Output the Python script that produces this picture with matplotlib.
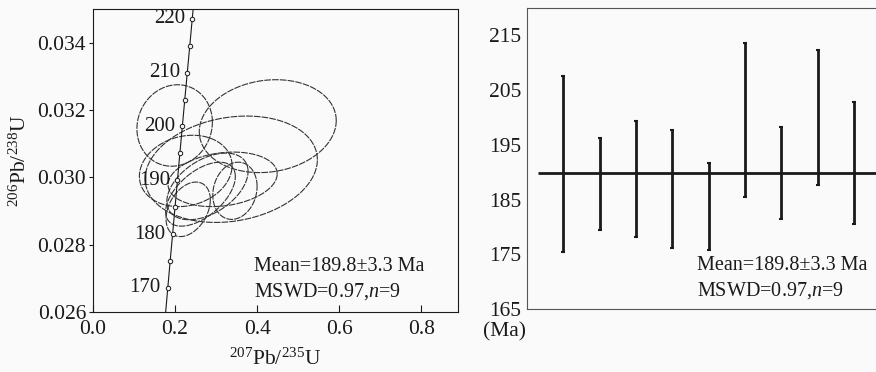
import numpy as np
import matplotlib.pyplot as plt
from matplotlib.ticker import MultipleLocator

plt.rcParams['font.family'] = ['Liberation Serif', 'DejaVu Serif']
plt.rcParams['mathtext.fontset'] = 'custom'
plt.rcParams['mathtext.rm'] = 'Liberation Serif'
plt.rcParams['mathtext.it'] = 'Liberation Serif:italic'

# concordia ticks (Ma) and their ratios
conc_age = [165, 170, 175, 180, 185, 190, 195, 200, 205, 210, 215, 220, 225]
conc_x = [0.1765, 0.1823, 0.1881, 0.1940, 0.1999, 0.2058, 0.2117, 0.2177,
          0.2237, 0.2298, 0.2359, 0.2419, 0.2481]
conc_y = [0.02592, 0.02672, 0.02752, 0.02831, 0.02911, 0.02991, 0.03071,
          0.03151, 0.03231, 0.03311, 0.03391, 0.03471, 0.03551]
label_ages = [170, 180, 190, 200, 210, 220]

# error ellipses: centre, half widths, correlation
ell_cx = [0.199, 0.426, 0.337, 0.226, 0.316, 0.346, 0.279, 0.262, 0.232]
ell_cy = [0.03154, 0.03152, 0.03024, 0.03019, 0.02994, 0.02960, 0.02973, 0.02950, 0.02905]
ell_sx = [0.092, 0.167, 0.210, 0.113, 0.133, 0.054, 0.099, 0.085, 0.054]
ell_sy = [0.00121, 0.00138, 0.00158, 0.00106, 0.00081, 0.00085, 0.00099, 0.00095, 0.00081]
ell_rho = [0.08, 0.12, 0.18, 0.15, 0.2, 0.15, 0.45, 0.55, 0.35]

# weighted mean plot
spot_top = [207.6, 196.3, 199.3, 197.7, 191.7, 213.6, 198.3, 212.3, 202.9]
spot_bot = [175.5, 179.5, 178.1, 176.1, 175.8, 185.5, 181.5, 187.7, 180.5]
mean_age = 189.8

bg = '#fafafa'
ink = '#1a1a1a'

fig = plt.figure(figsize=(8.76, 3.72), dpi=100, facecolor=bg)

# --- concordia
ax1 = fig.add_axes([0.1062, 0.1613, 0.4167, 0.8145], facecolor=bg)
t = np.linspace(0, 2 * np.pi, 200)
for cx, cy, sx, sy, r in zip(ell_cx, ell_cy, ell_sx, ell_sy, ell_rho):
    ex = cx + sx * np.cos(t)
    ey = cy + sy * (r * np.cos(t) + np.sqrt(1 - r ** 2) * np.sin(t))
    ax1.plot(ex, ey, color='#333333', lw=0.8, ls=(0, (6, 1)))

ax1.plot(conc_x, conc_y, color=ink, lw=0.8, marker='o', ms=3.2,
         mfc=bg, mec=ink, mew=0.7)
for a in label_ages:
    i = conc_age.index(a)
    ax1.annotate(str(a), (conc_x[i], conc_y[i]), xytext=(-5, 0),
                 textcoords='offset points', ha='right', va='center',
                 fontsize=15, color=ink)

ax1.set_xlim(0, 0.89)
ax1.set_ylim(0.026, 0.035)
ax1.xaxis.set_major_locator(MultipleLocator(0.2))
ax1.yaxis.set_major_locator(MultipleLocator(0.002))
ax1.xaxis.set_major_formatter(plt.FormatStrFormatter('%.1f'))
ax1.yaxis.set_major_formatter(plt.FormatStrFormatter('%.3f'))
ax1.tick_params(axis='x', direction='in', length=5, pad=6, labelsize=15.5, colors=ink)
ax1.tick_params(axis='y', direction='out', length=3, pad=2, labelsize=15.5, colors=ink)
ax1.set_xlabel(r'$^{207}$Pb/$^{235}$U', fontsize=15.5, labelpad=7, color=ink)
ax1.set_ylabel(r'$^{206}$Pb/$^{238}$U', fontsize=15.5, labelpad=5, color=ink)
ax1.text(0.441, 0.149, 'Mean=189.8±3.3 Ma', transform=ax1.transAxes,
         fontsize=14.5, va='center', color=ink)
ax1.text(0.441, 0.069, 'MSWD=0.97,$n$=9', transform=ax1.transAxes,
         fontsize=14.5, va='center', color=ink)
for s in ax1.spines.values():
    s.set_color(ink)

# --- weighted mean
ax2 = fig.add_axes([0.6016, 0.1694, 0.3984, 0.809], facecolor=bg)
xs = np.arange(1, len(spot_top) + 1)
mid = [(a + b) / 2 for a, b in zip(spot_top, spot_bot)]
err = [(a - b) / 2 for a, b in zip(spot_top, spot_bot)]
ax2.errorbar(xs, mid, yerr=err, fmt='none', ecolor=ink, elinewidth=2,
             capsize=1.5, capthick=1.5)
ax2.hlines(mean_age, 0.3, 9.6, color=ink, lw=2)
ax2.set_xlim(0, 9.6)
ax2.set_ylim(165, 220)
ax2.set_yticks([165, 175, 185, 195, 205, 215])
ax2.set_xticks([])
ax2.tick_params(axis='y', length=0, pad=4, labelsize=15.5, colors=ink)
ax2.spines['right'].set_visible(False)
for s in ['left', 'top', 'bottom']:
    ax2.spines[s].set_color('#555555')
ax2.text(-0.065, -0.075, '(Ma)', transform=ax2.transAxes, fontsize=15.5,
         ha='center', va='center', color=ink)
ax2.text(0.487, 0.143, 'Mean=189.8±3.3 Ma', transform=ax2.transAxes,
         fontsize=14.5, va='center', color=ink)
ax2.text(0.487, 0.06, 'MSWD=0.97,$n$=9', transform=ax2.transAxes,
         fontsize=14.5, va='center', color=ink)

fig.savefig('out.png', dpi=100, facecolor=bg)
